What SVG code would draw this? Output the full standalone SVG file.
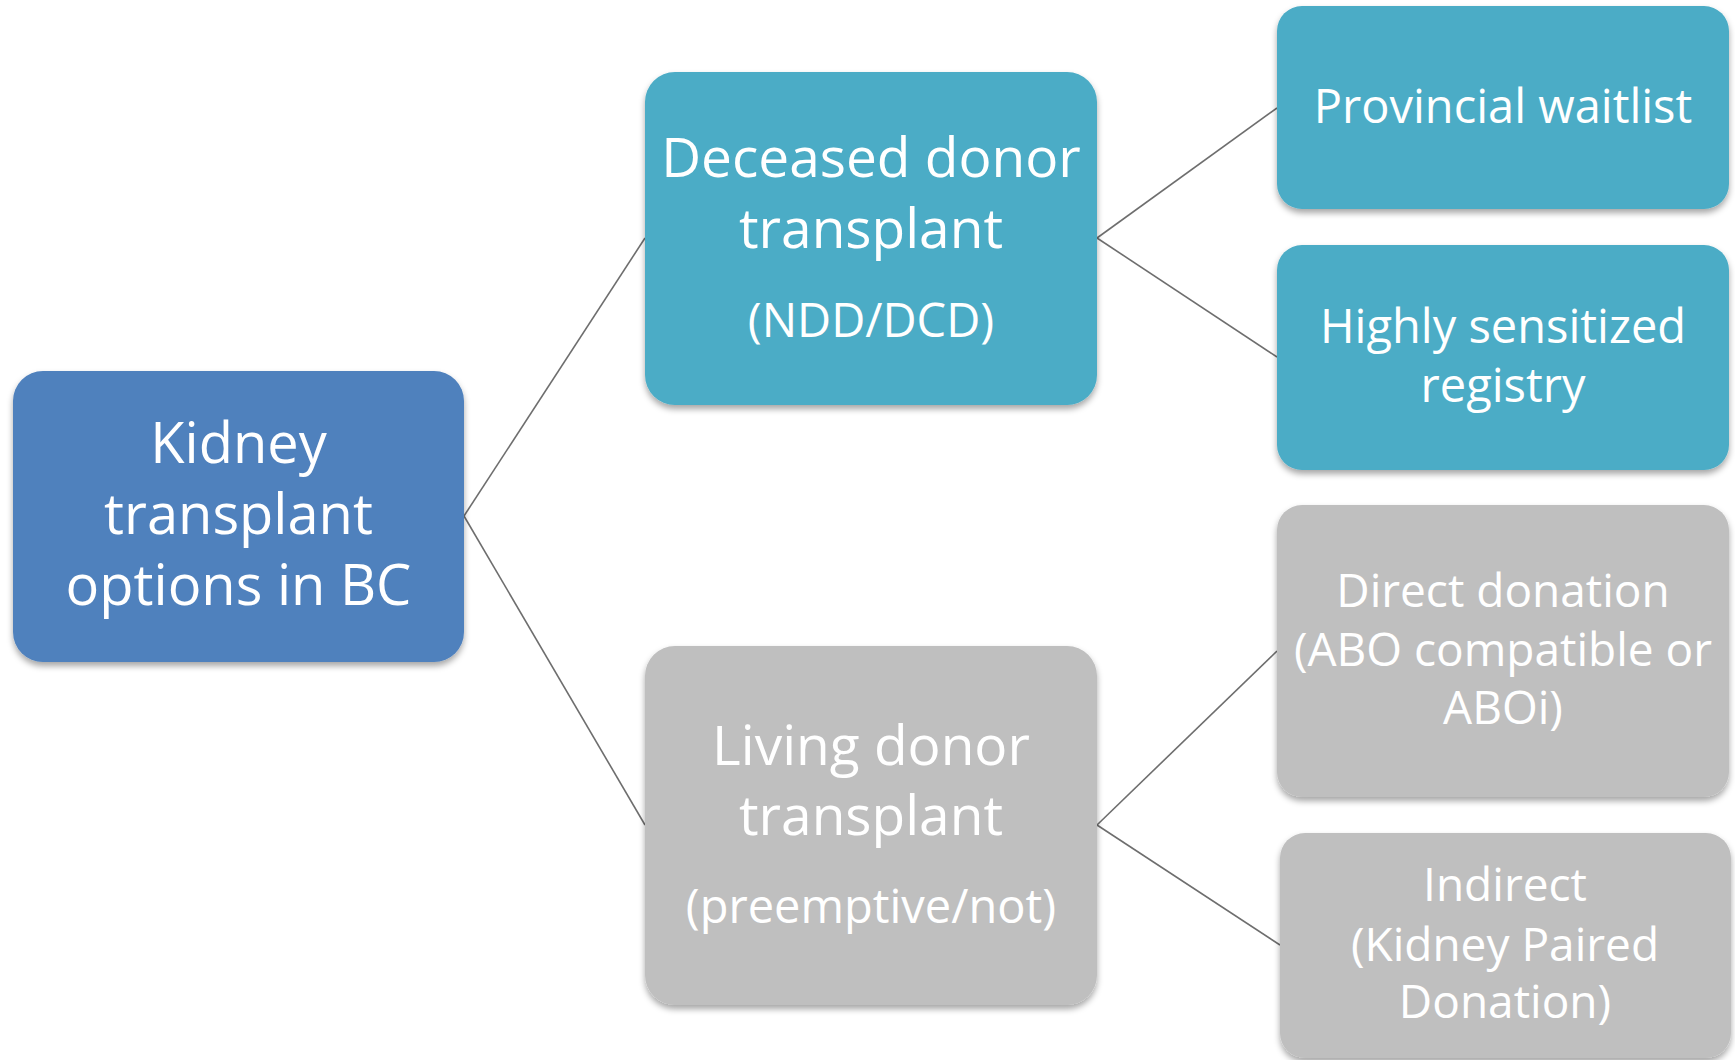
<svg xmlns="http://www.w3.org/2000/svg" width="1735" height="1060" viewBox="0 0 1735 1060">
<defs>
<filter id="sh" x="-10%" y="-10%" width="120%" height="125%">
<feDropShadow dx="0" dy="4" stdDeviation="3" flood-color="#000" flood-opacity="0.35"/>
</filter>
<style>
.box{filter:url(#sh)}
.root{fill:#4F81BD}
.teal{fill:#4BACC6}
.gray{fill:#BFBFBF}
text{font-family:"Open Sans","Liberation Sans",sans-serif;fill:#fff;text-anchor:middle}
.conn line{stroke:#6E6E6E;stroke-width:1.6}
</style>
</defs>
<rect width="1735" height="1060" fill="#fff"/>
<g class="conn" id="connectors">
<line x1="464" y1="516" x2="645" y2="238"/>
<line x1="464" y1="516" x2="645" y2="825"/>
<line x1="1097" y1="238" x2="1277" y2="108"/>
<line x1="1097" y1="238" x2="1277" y2="357"/>
<line x1="1097" y1="825" x2="1277" y2="651"/>
<line x1="1097" y1="825" x2="1280" y2="945"/>
</g>
<g id="root">
<rect class="box root" x="13" y="371" width="451" height="291" rx="30"/>
<text font-size="56"><tspan x="238.5" y="463">Kidney</tspan><tspan x="238.5" y="534">transplant</tspan><tspan x="238.5" y="605">options in BC</tspan></text>
</g>
<g id="deceased">
<rect class="box teal" x="645" y="72" width="452" height="333" rx="30"/>
<text font-size="55"><tspan x="871" y="177">Deceased donor</tspan><tspan x="871" y="248">transplant</tspan><tspan x="871" y="337" font-size="47">(NDD/DCD)</tspan></text>
</g>
<g id="living">
<rect class="box gray" x="645" y="646" width="452" height="359" rx="30"/>
<text font-size="55"><tspan x="871" y="765">Living donor</tspan><tspan x="871" y="835">transplant</tspan><tspan x="871" y="923" font-size="47">(preemptive/not)</tspan></text>
</g>
<g id="provincial">
<rect class="box teal" x="1277" y="6" width="452" height="203" rx="25"/>
<text font-size="47"><tspan x="1503" y="123">Provincial waitlist</tspan></text>
</g>
<g id="highly">
<rect class="box teal" x="1277" y="245" width="452" height="225" rx="25"/>
<text font-size="47"><tspan x="1503" y="343">Highly sensitized</tspan><tspan x="1503" y="402">registry</tspan></text>
</g>
<g id="direct">
<rect class="box gray" x="1277" y="505" width="452" height="292" rx="25"/>
<text font-size="46"><tspan x="1503" y="607">Direct donation</tspan><tspan x="1503" y="666">(ABO compatible or</tspan><tspan x="1503" y="724">ABOi)</tspan></text>
</g>
<g id="indirect">
<rect class="box gray" x="1280" y="833" width="451" height="225" rx="25"/>
<text font-size="46"><tspan x="1505" y="901">Indirect</tspan><tspan x="1505" y="961">(Kidney Paired</tspan><tspan x="1505" y="1018">Donation)</tspan></text>
</g>
</svg>
